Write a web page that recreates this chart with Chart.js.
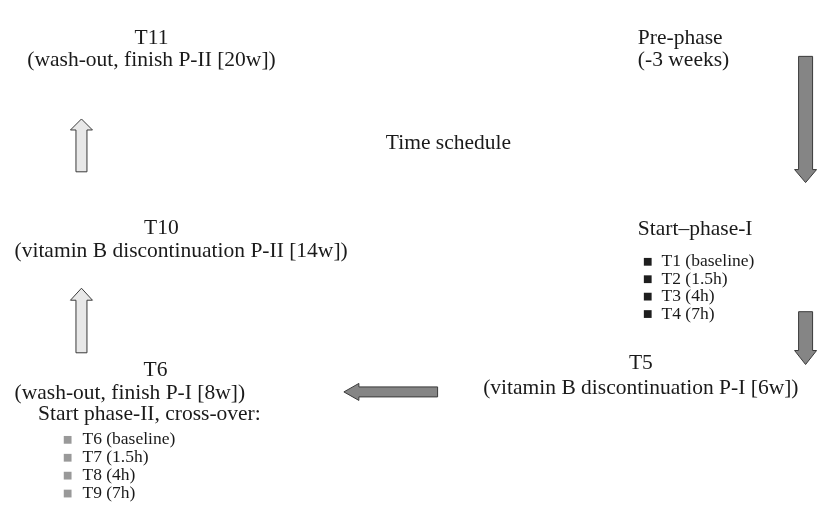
<!DOCTYPE html>
<html>
<head>
<meta charset="utf-8">
<script src="https://cdn.jsdelivr.net/npm/chart.js@4"></script>
<style>
  html, body { margin: 0; padding: 0; background: #fff; }
  #wrap { width: 817px; height: 506px; }
</style>
</head>
<body>
<div id="wrap"><canvas id="schedule" width="817" height="506"></canvas></div>
<script>
// Diagram content
var chartTitle = 'Time schedule';
var stepTitles = ['Pre-phase', 'Start\u2013phase-I', 'T5', 'T6', 'T10', 'T11'];
var stepNotes = ['(-3 weeks)', '', '(vitamin B discontinuation P-I [6w])', '(wash-out, finish P-I [8w])',
                 '(vitamin B discontinuation P-II [14w])', '(wash-out, finish P-II [20w])'];
var crossOverNote = 'Start phase-II, cross-over:';
var phaseOneTimes = ['T1 (baseline)', 'T2 (1.5h)', 'T3 (4h)', 'T4 (7h)'];
var phaseTwoTimes = ['T6 (baseline)', 'T7 (1.5h)', 'T8 (4h)', 'T9 (7h)'];

// Layout (in scale units, same as picture pixels)
var stepLayout = [
    { x: 641, y: 34, align: 'left',   noteX: 641, noteY: 56, noteAlign: 'left' },
    { x: 641, y: 229, align: 'left' },
    { x: 644, y: 366, align: 'center', noteX: 644, noteY: 391, noteAlign: 'center' },
    { x: 152, y: 373, align: 'center', noteX: 126, noteY: 396, noteAlign: 'center' },
    { x: 158, y: 228, align: 'center', noteX: 178, noteY: 251, noteAlign: 'center' },
    { x: 148, y: 34, align: 'center', noteX: 148, noteY: 56, noteAlign: 'center' }
];
var listOne = { bulletX: 651, textX: 665, top: 262, step: 17.8, color: '#1e1e1e' };
var listTwo = { bulletX: 63, textX: 78, top: 444, step: 18.3, color: '#999999' };

// Arrows: tail -> tip
var arrows = [
    { from: [811, 52], to: [811, 181], shaft: 7, head: 11, len: 13, fill: '#858585' },
    { from: [811, 313], to: [811, 367], shaft: 7, head: 11, len: 14, fill: '#858585' },
    { from: [438, 395], to: [343, 395], shaft: 5, head: 8.5, len: 15, fill: '#858585' },
    { from: [77, 170], to: [77, 116], shaft: 5.5, head: 11, len: 11, fill: '#e8e8e8' },
    { from: [77, 355], to: [77, 289], shaft: 5.5, head: 11, len: 12, fill: '#e8e8e8' }
];

function listPoints(items, layout) {
    return items.map(function (label, i) {
        return { x: layout.bulletX, y: layout.top + i * layout.step, label: label };
    });
}

var diagramPlugin = {
    id: 'diagram',
    afterDatasetsDraw: function (chart) {
        var ctx = chart.ctx;
        var sx = chart.scales.x, sy = chart.scales.y;
        var X = function (v) { return sx.getPixelForValue(v); };
        var Y = function (v) { return sy.getPixelForValue(v); };

        ctx.save();
        // arrows
        arrows.forEach(function (a) {
            var x1 = X(a.from[0]), y1 = Y(a.from[1]), x2 = X(a.to[0]), y2 = Y(a.to[1]);
            var dx = x2 - x1, dy = y2 - y1, d = Math.sqrt(dx * dx + dy * dy);
            var ux = dx / d, uy = dy / d, nx = -uy, ny = ux;
            var bx = x2 - ux * a.len, by = y2 - uy * a.len;
            ctx.beginPath();
            ctx.moveTo(x1 + nx * a.shaft, y1 + ny * a.shaft);
            ctx.lineTo(bx + nx * a.shaft, by + ny * a.shaft);
            ctx.lineTo(bx + nx * a.head, by + ny * a.head);
            ctx.lineTo(x2, y2);
            ctx.lineTo(bx - nx * a.head, by - ny * a.head);
            ctx.lineTo(bx - nx * a.shaft, by - ny * a.shaft);
            ctx.lineTo(x1 - nx * a.shaft, y1 - ny * a.shaft);
            ctx.closePath();
            ctx.fillStyle = a.fill;
            ctx.fill();
            ctx.lineWidth = 1;
            ctx.strokeStyle = '#3a3a3a';
            ctx.stroke();
        });

        // texts
        ctx.fillStyle = '#1a1a1a';
        ctx.textBaseline = 'middle';
        ctx.font = '21.5px "Liberation Serif"';
        ctx.textAlign = 'center';
        ctx.fillText(chartTitle, X(449), Y(141));

        stepTitles.forEach(function (t, i) {
            var l = stepLayout[i];
            ctx.textAlign = l.align;
            ctx.fillText(t, X(l.x), Y(l.y));
            if (stepNotes[i]) {
                ctx.textAlign = l.noteAlign;
                ctx.fillText(stepNotes[i], X(l.noteX), Y(l.noteY));
            }
        });
        ctx.textAlign = 'left';
        ctx.fillText(crossOverNote, X(33), Y(418));

        ctx.font = '17.5px "Liberation Serif"';
        [[phaseOneTimes, listOne], [phaseTwoTimes, listTwo]].forEach(function (pair) {
            listPoints(pair[0], pair[1]).forEach(function (p) {
                ctx.fillText(p.label, X(pair[1].textX), Y(p.y));
            });
        });
        ctx.restore();
    }
};

new Chart(document.getElementById('schedule').getContext('2d'), {
    type: 'scatter',
    data: {
        datasets: [
            {
                label: 'Phase I',
                data: listPoints(phaseOneTimes, listOne),
                pointStyle: 'rect',
                pointRadius: 5.5,
                backgroundColor: listOne.color,
                borderColor: listOne.color,
                borderWidth: 0
            },
            {
                label: 'Phase II',
                data: listPoints(phaseTwoTimes, listTwo),
                pointStyle: 'rect',
                pointRadius: 5.5,
                backgroundColor: listTwo.color,
                borderColor: listTwo.color,
                borderWidth: 0
            }
        ]
    },
    options: {
        responsive: false,
        animation: false,
        clip: false,
        layout: { padding: 0 },
        scales: {
            x: { type: 'linear', min: 0, max: 817, display: false },
            y: { type: 'linear', min: 0, max: 506, reverse: true, display: false }
        },
        plugins: {
            legend: { display: false },
            tooltip: { enabled: false }
        }
    },
    plugins: [diagramPlugin]
});
</script>
</body>
</html>
